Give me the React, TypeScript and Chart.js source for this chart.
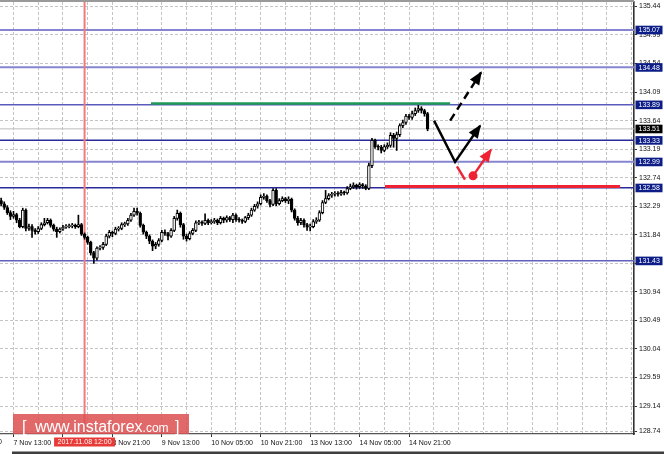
import React, { useEffect, useRef } from "react";
import { Chart, registerables } from "chart.js";
Chart.register(...registerables);

// ---- candle data (H1 bars, index 0 = 7 Nov 09:00) ----
const OPEN = [
  132.38, 132.33, 132.27, 132.19, 132.13, 132.16, 132.07, 131.97, 132.23, 131.94,
  131.97, 131.91, 131.89, 131.94, 132.0, 132.03, 132.07, 131.99, 131.93, 131.89,
  131.93, 131.96, 131.97, 131.98, 131.99, 131.97, 132.0, 131.85, 131.8, 131.72,
  131.56, 131.47, 131.63, 131.64, 131.69, 131.82, 131.88, 131.86, 131.93, 131.94,
  132.0, 132.01, 132.07, 132.15, 132.21, 132.18, 131.99, 131.88, 131.82, 131.74,
  131.66, 131.69, 131.75, 131.88, 131.86, 131.82, 131.91, 132.1, 132.18, 132.0,
  131.82, 131.78, 131.86, 131.91, 132.03, 132.04, 132.02, 132.07, 132.03, 132.05,
  132.07, 132.03, 132.1, 132.07, 132.11, 132.08, 132.15, 132.08, 132.07, 132.05,
  132.11, 132.15, 132.23, 132.29, 132.33, 132.43, 132.45, 132.38, 132.32, 132.54,
  132.33, 132.38, 132.41, 132.38, 132.4, 132.23, 132.1, 132.03, 132.07, 132.0,
  131.96, 131.97, 132.05, 132.07, 132.19, 132.35, 132.41, 132.46, 132.48, 132.49,
  132.48, 132.51, 132.5, 132.57, 132.6, 132.62, 132.6, 132.63, 132.61, 132.57,
  132.93, 133.33, 133.23, 133.22, 133.17, 133.23, 133.25, 133.41, 133.36, 133.42,
  133.56, 133.61, 133.71, 133.69, 133.75, 133.8, 133.83, 133.8, 133.75,
];
const HIGH = [
  132.42, 132.36, 132.3, 132.22, 132.21, 132.18, 132.1, 132.26, 132.25, 132.01,
  132.0, 131.94, 131.97, 132.03, 132.1, 132.1, 132.09, 132.01, 131.96, 131.95,
  131.99, 132.0, 132.01, 132.02, 132.01, 132.15, 132.02, 131.87, 131.82, 131.74,
  131.58, 131.65, 131.67, 131.72, 131.85, 131.91, 131.9, 131.96, 131.97, 132.03,
  132.04, 132.1, 132.18, 132.26, 132.26, 132.2, 132.01, 131.9, 131.84, 131.76,
  131.72, 131.78, 131.91, 131.92, 131.88, 131.94, 132.13, 132.23, 132.2, 132.02,
  131.85, 131.89, 131.94, 132.06, 132.07, 132.06, 132.17, 132.09, 132.08, 132.1,
  132.09, 132.13, 132.12, 132.14, 132.13, 132.18, 132.17, 132.11, 132.09, 132.13,
  132.18, 132.26, 132.32, 132.36, 132.47, 132.49, 132.47, 132.4, 132.57, 132.57,
  132.41, 132.44, 132.43, 132.44, 132.42, 132.25, 132.13, 132.1, 132.09, 132.02,
  132.01, 132.08, 132.11, 132.22, 132.38, 132.54, 132.49, 132.51, 132.52, 132.52,
  132.54, 132.53, 132.6, 132.64, 132.66, 132.64, 132.66, 132.65, 132.63, 132.97,
  133.36, 133.35, 133.26, 133.25, 133.26, 133.29, 133.45, 133.44, 133.46, 133.59,
  133.65, 133.74, 133.74, 133.79, 133.84, 133.88, 133.86, 133.82, 133.77,
];
const LOW = [
  132.3, 132.24, 132.16, 132.08, 132.1, 132.03, 131.95, 131.95, 131.9, 131.91,
  131.8, 131.85, 131.86, 131.92, 131.98, 132.01, 131.96, 131.9, 131.8, 131.87,
  131.91, 131.94, 131.95, 131.95, 131.94, 131.95, 131.83, 131.77, 131.69, 131.52,
  131.39, 131.44, 131.6, 131.61, 131.67, 131.79, 131.81, 131.84, 131.9, 131.92,
  131.97, 131.99, 132.05, 132.13, 132.15, 131.96, 131.85, 131.78, 131.7, 131.59,
  131.62, 131.66, 131.73, 131.83, 131.76, 131.8, 131.89, 132.07, 131.96, 131.77,
  131.74, 131.76, 131.84, 131.89, 132.0, 131.99, 132.0, 132.0, 132.01, 132.02,
  132.0, 132.01, 132.03, 132.04, 132.05, 132.03, 132.05, 132.04, 132.02, 132.03,
  132.08, 132.13, 132.21, 132.26, 132.31, 132.4, 132.35, 132.28, 132.3, 132.3,
  132.31, 132.36, 132.35, 132.33, 132.2, 132.07, 131.99, 132.0, 131.96, 131.91,
  131.9, 131.95, 132.02, 132.05, 132.17, 132.33, 132.39, 132.43, 132.45, 132.45,
  132.46, 132.47, 132.48, 132.55, 132.57, 132.56, 132.57, 132.57, 132.55, 132.55,
  132.9, 133.2, 133.18, 133.13, 133.15, 133.2, 133.22, 133.22, 133.17, 133.39,
  133.53, 133.58, 133.66, 133.66, 133.72, 133.77, 133.76, 133.71, 133.48,
];
const CLOSE = [
  132.33, 132.27, 132.19, 132.13, 132.16, 132.07, 131.97, 132.23, 131.94, 131.97,
  131.91, 131.89, 131.94, 132.0, 132.03, 132.07, 131.99, 131.93, 131.89, 131.93,
  131.96, 131.97, 131.98, 131.99, 131.97, 132.0, 131.85, 131.8, 131.72, 131.56,
  131.47, 131.63, 131.64, 131.69, 131.82, 131.88, 131.86, 131.93, 131.94, 132.0,
  132.01, 132.07, 132.15, 132.21, 132.18, 131.99, 131.88, 131.82, 131.74, 131.66,
  131.69, 131.75, 131.88, 131.86, 131.82, 131.91, 132.1, 132.18, 132.0, 131.82,
  131.78, 131.86, 131.91, 132.03, 132.04, 132.02, 132.07, 132.03, 132.05, 132.07,
  132.03, 132.1, 132.07, 132.11, 132.08, 132.15, 132.08, 132.07, 132.05, 132.11,
  132.15, 132.23, 132.29, 132.33, 132.43, 132.45, 132.38, 132.32, 132.54, 132.33,
  132.38, 132.41, 132.38, 132.4, 132.23, 132.1, 132.03, 132.07, 132.0, 131.96,
  131.97, 132.05, 132.07, 132.19, 132.35, 132.41, 132.46, 132.48, 132.49, 132.48,
  132.51, 132.5, 132.57, 132.6, 132.62, 132.6, 132.63, 132.61, 132.57, 132.93,
  133.33, 133.23, 133.22, 133.17, 133.23, 133.25, 133.41, 133.36, 133.42, 133.56,
  133.61, 133.71, 133.69, 133.75, 133.8, 133.83, 133.8, 133.75, 133.51,
];

// ---- axes ----
const X_MIN = -0.37;
const X_MAX = 204.8;
const Y_MIN = 128.7;
const Y_MAX = 135.51;
const Y_TICKS = [135.44, 134.99, 134.54, 134.09, 133.64, 133.19, 132.74, 132.29, 131.84, 131.39, 130.94, 130.49, 130.04, 129.59, 129.14, 128.74];
const X_GRID = [4, 12, 20, 28, 36, 44, 52, 60, 68, 76, 84, 92, 100, 108, 116, 124, 132, 140, 148, 156, 164, 172, 180, 188, 196, 204];
const X_LABEL_IDX = [4, 20, 36, 52, 68, 84, 100, 116, 132];
const X_LABELS = ["7 Nov 13:00", "8 Nov 05:00", "8 Nov 21:00", "9 Nov 13:00", "10 Nov 05:00", "10 Nov 21:00", "13 Nov 13:00", "14 Nov 05:00", "14 Nov 21:00"];
const PREV_LABEL_IDX = -12;
const PREV_LABEL = "6 Nov 21:00";

// ---- levels & annotations ----
const LEVELS = [135.07, 134.48, 133.89, 133.33, 132.99, 132.58, 131.43];
const BID = 133.51;
const GREEN_LEVEL = 133.91;
const GREEN_SPAN = [48.5, 145.3];
const RED_LEVEL = 132.6;
const RED_SPAN = [124.2, 200.3];
const VLINE_IDX = 27;
const VLINE_LABEL = "2017.11.08 12:00";
const ARROW_DASHED = [{ x: 145.3, y: 133.64 }, { x: 155.3, y: 134.4 }];
const ARROW_SOLID = [{ x: 140.1, y: 133.64 }, { x: 146.9, y: 132.99 }, { x: 155.0, y: 133.56 }];
const RED_TICK = [{ x: 147.5, y: 132.92 }, { x: 150.1, y: 132.71 }];
const RED_ARROW = [{ x: 152.7, y: 132.77 }, { x: 158.5, y: 133.18 }];
const RED_DOT = [{ x: 152.7, y: 132.77 }];

// ---- styles ----
const LEVEL_COLORS = ["#8686d0", "#8686d0", "#5a5abd", "#2a2a9c", "#8686d0", "#2a2a9c", "#6060bf"];
const LEVEL_WIDTHS = [2, 2, 1.5, 1.5, 2, 1.5, 1.6];
const FONT = '"Liberation Sans", Arial, sans-serif';
const RED = "#ee2233";

export default function App() {
  const ref = useRef<HTMLCanvasElement | null>(null);
  useEffect(() => {
    const canvas = ref.current;
    if (!canvas) return;

    const lineDs = (data: any[], color: string, width: number, order: number, dash: number[] = []) => ({
      type: "line" as const,
      data,
      borderColor: color,
      backgroundColor: color,
      borderWidth: width,
      borderDash: dash,
      pointRadius: 0,
      fill: false,
      tension: 0,
      order,
    });

    const datasets: any[] = [
      {
        type: "bar",
        data: CLOSE.map((c, i) => ({ x: i, y: [OPEN[i], c] })),
        backgroundColor: CLOSE.map((c, i) => (c >= OPEN[i] ? "#ffffff" : "#000000")),
        borderColor: "#000000",
        borderWidth: 1,
        borderSkipped: false,
        barThickness: 2.8,
        minBarLength: 1,
        grouped: false,
        order: 1,
      },
      {
        type: "bar",
        data: CLOSE.map((_, i) => ({ x: i, y: [LOW[i], HIGH[i]] })),
        backgroundColor: "#000000",
        borderWidth: 0,
        barThickness: 1,
        grouped: false,
        order: 2,
      },
      ...LEVELS.map((v, k) =>
        lineDs([{ x: X_MIN, y: v }, { x: X_MAX, y: v }], LEVEL_COLORS[k], LEVEL_WIDTHS[k], 10)
      ),
      lineDs([{ x: X_MIN, y: BID }, { x: X_MAX, y: BID }], "#bdbdbd", 1, 11),
      lineDs([{ x: VLINE_IDX, y: Y_MIN }, { x: VLINE_IDX, y: Y_MAX }], "#f27a7a", 2, 9),
      lineDs([{ x: GREEN_SPAN[0], y: GREEN_LEVEL }, { x: GREEN_SPAN[1], y: GREEN_LEVEL }], "#1f9a55", 2.6, 8),
      lineDs([{ x: RED_SPAN[0], y: RED_LEVEL }, { x: RED_SPAN[1], y: RED_LEVEL }], RED, 3, 8),
      lineDs(ARROW_DASHED, "#000000", 2.4, 0, [8, 5]),
      lineDs(ARROW_SOLID, "#000000", 2.4, 0),
      lineDs(RED_TICK, RED, 2.4, 0),
      lineDs(RED_ARROW, RED, 2.4, 0),
      {
        type: "line",
        data: RED_DOT,
        showLine: false,
        pointRadius: 4.5,
        pointBackgroundColor: RED,
        pointBorderWidth: 0,
        order: 0,
      },
    ];

    const arrowHeads = [
      { pts: ARROW_DASHED, color: "#000000" },
      { pts: ARROW_SOLID, color: "#000000" },
      { pts: RED_ARROW, color: RED },
    ];

    const overlay = {
      id: "overlay",
      afterDatasetsDraw(chart: any) {
        const { ctx, scales } = chart;
        const xs = scales.x, ys = scales.y;
        ctx.save();
        for (const a of arrowHeads) {
          const p1 = a.pts[a.pts.length - 2];
          const p2 = a.pts[a.pts.length - 1];
          const x1 = xs.getPixelForValue(p1.x), y1 = ys.getPixelForValue(p1.y);
          const x2 = xs.getPixelForValue(p2.x), y2 = ys.getPixelForValue(p2.y);
          const ang = Math.atan2(y2 - y1, x2 - x1);
          const L = 12, W = 5.5;
          const bx = x2 - L * Math.cos(ang), by = y2 - L * Math.sin(ang);
          ctx.fillStyle = a.color;
          ctx.beginPath();
          ctx.moveTo(x2 + 1.5 * Math.cos(ang), y2 + 1.5 * Math.sin(ang));
          ctx.lineTo(bx + W * Math.sin(ang), by - W * Math.cos(ang));
          ctx.lineTo(bx - W * Math.sin(ang), by + W * Math.cos(ang));
          ctx.closePath();
          ctx.fill();
        }
        ctx.restore();
      },
      afterDraw(chart: any) {
        const { ctx, chartArea, scales } = chart;
        const xs = scales.x, ys = scales.y;
        ctx.save();
        // top frame line
        ctx.strokeStyle = "#9a9a9a";
        ctx.lineWidth = 2;
        ctx.beginPath();
        ctx.moveTo(0, 1);
        ctx.lineTo(chartArea.right, 1);
        ctx.stroke();

        // price boxes on the right
        ctx.font = `7px ${FONT}`;
        ctx.textBaseline = "middle";
        ctx.textAlign = "left";
        const box = (v: number, bg: string) => {
          const py = ys.getPixelForValue(v);
          ctx.fillStyle = bg;
          ctx.fillRect(chartArea.right + 1.5, py - 4.2, 27, 8.6);
          ctx.fillStyle = "#ffffff";
          ctx.fillText(v.toFixed(2), chartArea.right + 4.5, py + 0.3);
        };
        LEVELS.forEach((v) => box(v, "#0c1d87"));
        box(BID, "#000000");

        // vertical-line time label
        const vx = xs.getPixelForValue(VLINE_IDX);
        const tw = ctx.measureText(VLINE_LABEL).width + 7;
        ctx.fillStyle = "#e83a36";
        ctx.fillRect(vx - tw / 2, chartArea.bottom + 3.5, tw, 9);
        ctx.fillStyle = "#ffffff";
        ctx.textAlign = "center";
        ctx.fillText(VLINE_LABEL, vx, chartArea.bottom + 8.2);

        // partially visible previous label
        ctx.textAlign = "left";
        ctx.textBaseline = "top";
        ctx.fillStyle = "#111111";
        ctx.fillText(PREV_LABEL, xs.getPixelForValue(PREV_LABEL_IDX), chartArea.bottom + 5);

        // watermark
        ctx.fillStyle = "rgba(221, 80, 80, 0.86)";
        ctx.fillRect(13, chartArea.bottom - 20, 176, 20);
        ctx.fillStyle = "#ffffff";
        ctx.textBaseline = "alphabetic";
        ctx.font = `16px ${FONT}`;
        const base = chartArea.bottom - 2.5;
        ctx.fillText("[", 22, base);
        ctx.fillText("www.instaforex", 35, base);
        const w1 = ctx.measureText("www.instaforex").width;
        ctx.font = `12px ${FONT}`;
        ctx.fillText(".com", 35 + w1, base);
        ctx.font = `16px ${FONT}`;
        ctx.fillText("]", 175, base);

        // bottom window strip
        ctx.fillStyle = "#3d3d3d";
        ctx.fillRect(12, 451.5, 652, 3);
        ctx.restore();
      },
    };

    const chart = new Chart(canvas, {
      type: "bar",
      data: { datasets },
      options: {
        animation: false,
        responsive: false,
        events: [],
        layout: { autoPadding: false, padding: { top: 2, left: 0, right: 0, bottom: 0 } },
        plugins: { legend: { display: false }, tooltip: { enabled: false } },
        scales: {
          x: {
            type: "linear",
            position: "bottom",
            min: X_MIN,
            max: X_MAX,
            offset: false,
            afterBuildTicks: (s: any) => {
              s.ticks = X_GRID.map((v) => ({ value: v }));
            },
            afterFit: (s: any) => {
              s.height = 20;
              s.paddingLeft = 0;
              s.paddingRight = 0;
            },
            ticks: {
              autoSkip: false,
              maxRotation: 0,
              minRotation: 0,
              align: "start",
              padding: 2,
              color: "#111111",
              font: { family: FONT, size: 7 },
              callback: (v: any) => {
                const k = X_LABEL_IDX.indexOf(Number(v));
                return k >= 0 ? X_LABELS[k] : "";
              },
            },
            grid: {
              color: "#c4c4c4",
              lineWidth: 1,
              offset: false,
              drawTicks: true,
              tickLength: 3,
              tickColor: (c: any) => (c.tick && X_LABEL_IDX.includes(c.tick.value) ? "#333333" : "rgba(0,0,0,0)"),
            },
            border: { display: true, color: "#555555", width: 1.2, dash: [3, 2] },
          },
          y: {
            type: "linear",
            position: "right",
            min: Y_MIN,
            max: Y_MAX,
            beginAtZero: false,
            afterBuildTicks: (s: any) => {
              s.ticks = Y_TICKS.map((v) => ({ value: v }));
            },
            afterFit: (s: any) => {
              s.width = 30;
              s.paddingTop = 0;
              s.paddingBottom = 0;
            },
            ticks: {
              padding: 2,
              color: "#111111",
              font: { family: FONT, size: 7 },
              callback: (v: any) => Number(v).toFixed(2),
            },
            grid: { color: "#c4c4c4", lineWidth: 1, tickLength: 3, tickColor: "#333333" },
            border: { display: true, color: "#333333", width: 1.6, dash: [3, 2] },
          },
        },
      },
      plugins: [overlay],
    } as any);
    return () => chart.destroy();
  }, []);

  return (
    <div style={{ position: "absolute", left: 0, top: 0, width: 664, height: 454, background: "#ffffff" }}>
      <canvas ref={ref} width={664} height={454} style={{ width: 664, height: 454, display: "block" }} />
    </div>
  );
}
